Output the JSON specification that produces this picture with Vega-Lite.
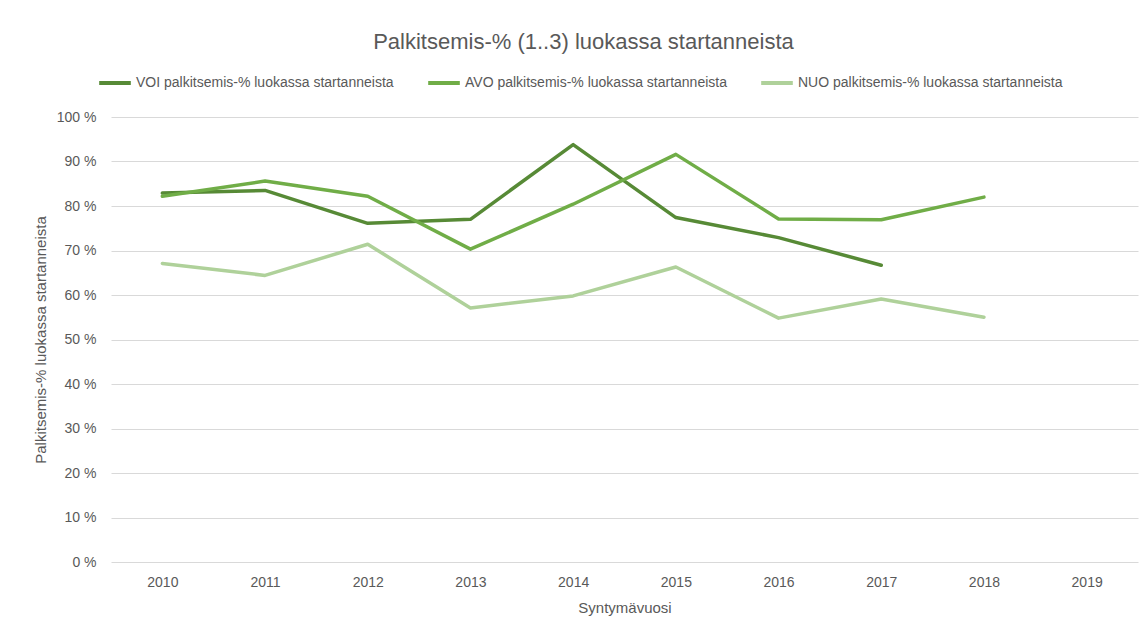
{
  "$schema": "https://vega.github.io/schema/vega-lite/v6.json",
  "width": 1027,
  "height": 445,
  "autosize": "none",
  "padding": {"left": 111, "top": 117, "right": 8, "bottom": 69},
  "background": "white",
  "title": {
    "text": "Palkitsemis-% (1..3) luokassa startanneista",
    "fontSize": 22,
    "font": "Liberation Sans",
    "fontWeight": "normal",
    "color": "#595959",
    "anchor": "middle",
    "dx": -41,
    "offset": 11
  },
  "data": {
    "values": [
      {"vuosi": "2010", "sarja": "VOI palkitsemis-% luokassa startanneista", "arvo": 82.9},
      {"vuosi": "2011", "sarja": "VOI palkitsemis-% luokassa startanneista", "arvo": 83.5},
      {"vuosi": "2012", "sarja": "VOI palkitsemis-% luokassa startanneista", "arvo": 76.1},
      {"vuosi": "2013", "sarja": "VOI palkitsemis-% luokassa startanneista", "arvo": 77.0},
      {"vuosi": "2014", "sarja": "VOI palkitsemis-% luokassa startanneista", "arvo": 93.8},
      {"vuosi": "2015", "sarja": "VOI palkitsemis-% luokassa startanneista", "arvo": 77.4},
      {"vuosi": "2016", "sarja": "VOI palkitsemis-% luokassa startanneista", "arvo": 72.9},
      {"vuosi": "2017", "sarja": "VOI palkitsemis-% luokassa startanneista", "arvo": 66.7},
      {"vuosi": "2010", "sarja": "AVO palkitsemis-% luokassa startanneista", "arvo": 82.2},
      {"vuosi": "2011", "sarja": "AVO palkitsemis-% luokassa startanneista", "arvo": 85.6},
      {"vuosi": "2012", "sarja": "AVO palkitsemis-% luokassa startanneista", "arvo": 82.2},
      {"vuosi": "2013", "sarja": "AVO palkitsemis-% luokassa startanneista", "arvo": 70.3},
      {"vuosi": "2014", "sarja": "AVO palkitsemis-% luokassa startanneista", "arvo": 80.4},
      {"vuosi": "2015", "sarja": "AVO palkitsemis-% luokassa startanneista", "arvo": 91.6},
      {"vuosi": "2016", "sarja": "AVO palkitsemis-% luokassa startanneista", "arvo": 77.1},
      {"vuosi": "2017", "sarja": "AVO palkitsemis-% luokassa startanneista", "arvo": 76.9},
      {"vuosi": "2018", "sarja": "AVO palkitsemis-% luokassa startanneista", "arvo": 82.0},
      {"vuosi": "2010", "sarja": "NUO palkitsemis-% luokassa startanneista", "arvo": 67.1},
      {"vuosi": "2011", "sarja": "NUO palkitsemis-% luokassa startanneista", "arvo": 64.4},
      {"vuosi": "2012", "sarja": "NUO palkitsemis-% luokassa startanneista", "arvo": 71.4},
      {"vuosi": "2013", "sarja": "NUO palkitsemis-% luokassa startanneista", "arvo": 57.1},
      {"vuosi": "2014", "sarja": "NUO palkitsemis-% luokassa startanneista", "arvo": 59.8},
      {"vuosi": "2015", "sarja": "NUO palkitsemis-% luokassa startanneista", "arvo": 66.3},
      {"vuosi": "2016", "sarja": "NUO palkitsemis-% luokassa startanneista", "arvo": 54.8},
      {"vuosi": "2017", "sarja": "NUO palkitsemis-% luokassa startanneista", "arvo": 59.1},
      {"vuosi": "2018", "sarja": "NUO palkitsemis-% luokassa startanneista", "arvo": 55.0}
    ]
  },
  "mark": {"type": "line", "strokeWidth": 3.5, "strokeCap": "round", "strokeJoin": "round"},
  "encoding": {
    "x": {
      "field": "vuosi",
      "type": "ordinal",
      "scale": {"type": "point", "padding": 0.5, "domain": ["2010","2011","2012","2013","2014","2015","2016","2017","2018","2019"]},
      "axis": {
        "title": "Syntymävuosi",
        "labelAngle": 0,
        "domain": false,
        "ticks": false,
        "grid": false,
        "labelPadding": 13,
        "titlePadding": 11
      }
    },
    "y": {
      "field": "arvo",
      "type": "quantitative",
      "scale": {"domain": [0, 100], "nice": false},
      "axis": {
        "title": "Palkitsemis-% luokassa startanneista",
        "values": [0,10,20,30,40,50,60,70,80,90,100],
        "labelExpr": "datum.value + ' %'",
        "domain": false,
        "ticks": false,
        "grid": true,
        "labelPadding": 15,
        "titlePadding": 8
      }
    },
    "color": {
      "field": "sarja",
      "type": "nominal",
      "scale": {
        "domain": ["VOI palkitsemis-% luokassa startanneista", "AVO palkitsemis-% luokassa startanneista", "NUO palkitsemis-% luokassa startanneista"],
        "range": ["#578a36", "#70ad47", "#afd19a"]
      },
      "legend": {
        "title": null,
        "orient": "none",
        "legendX": -14,
        "legendY": -52,
        "direction": "horizontal",
        "symbolType": "stroke",
        "symbolStrokeWidth": 4,
        "symbolSize": 1000,
        "labelFontSize": 14,
        "labelLimit": 400,
        "labelColor": "#595959",
        "labelFont": "Liberation Sans",
        "columnPadding": 26,
        "labelOffset": 3
      }
    }
  },
  "config": {
    "view": {"stroke": null},
    "axis": {
      "labelFont": "Liberation Sans",
      "titleFont": "Liberation Sans",
      "labelFontSize": 14,
      "titleFontSize": 15,
      "labelColor": "#595959",
      "titleColor": "#595959",
      "titleFontWeight": "normal",
      "gridColor": "#d9d9d9",
      "gridWidth": 1
    }
  }
}
